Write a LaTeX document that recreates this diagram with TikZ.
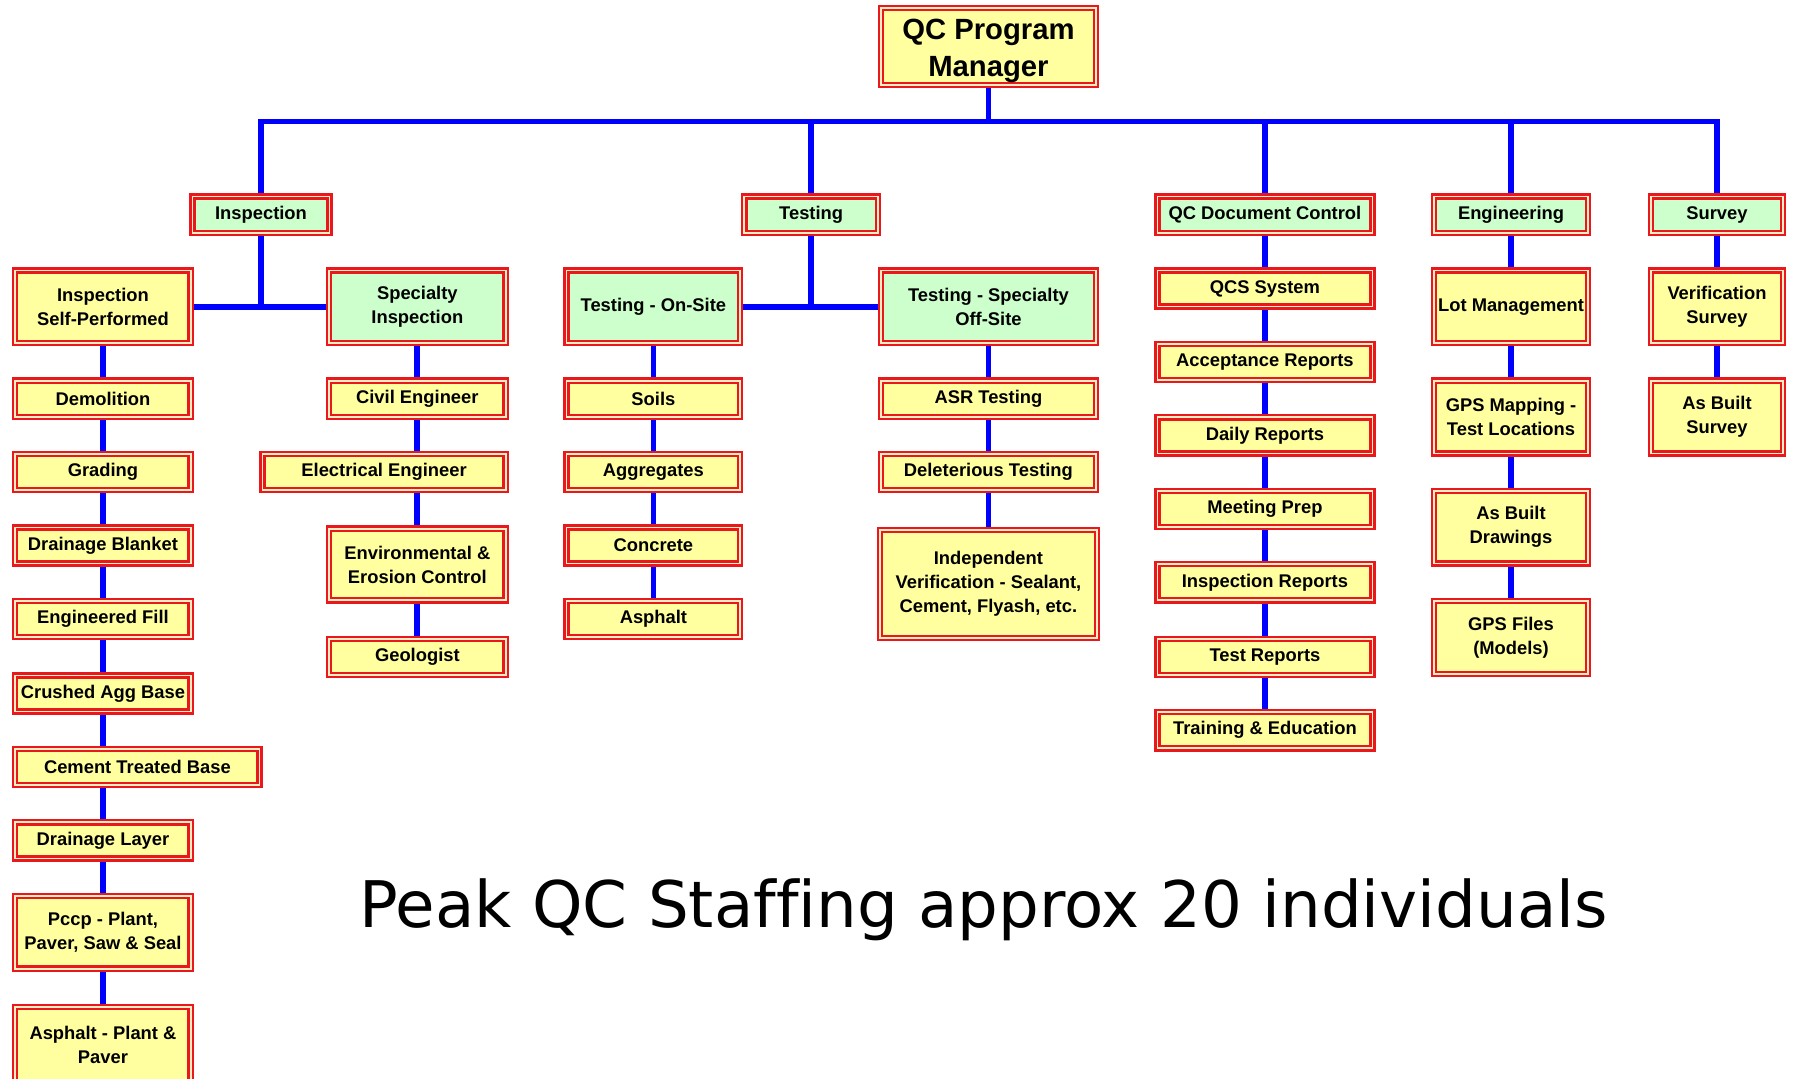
\documentclass[tikz,border=0pt]{standalone}
\usepackage{fontspec}
\setmainfont{Liberation Sans}
\newfontfamily\capfont[Ligatures=NoCommon]{DejaVu Sans}
\usetikzlibrary{backgrounds}

\definecolor{bred}{RGB}{232,24,28}
\definecolor{bgap}{RGB}{255,238,195}
\definecolor{byel}{RGB}{255,255,160}
\definecolor{bgrn}{RGB}{204,255,204}
\definecolor{bblue}{RGB}{0,0,255}

\tikzset{
  orgbox/.style={draw=bred, double=bgap, line width=2pt, double distance=1.6pt,
    inner sep=0pt, align=center, text=black,
    font=\bfseries\fontsize{16}{21}\selectfont},
  ybox/.style={orgbox, fill=byel},
  gbox/.style={orgbox, fill=bgrn},
  link/.style={draw=bblue, line width=5pt},
}

% box given by its outer edges: name, style, x1, x2, y1, y2, text
\newcommand\obox[7]{%
  \node[#2, minimum width={(#4-#3-5.6)*1pt}, minimum height={(#6-#5-5.6)*1pt}]
    (#1) at ({(#3+#4)/2},{(#5+#6)/2}) {#7};}

\begin{document}
\begin{tikzpicture}[x=1pt, y=-1pt]
\useasboundingbox (0,0) rectangle (1568,940);

% top
\obox{mgr}{ybox, font=\bfseries\fontsize{25.5}{32}\selectfont}{765}{958}{4}{77}{\rule{0pt}{25pt}QC Program\\Manager}

% second level
\obox{insp}{gbox}{165}{290}{168.5}{206}{Inspection}
\obox{test}{gbox}{646}{768}{168.5}{206}{Testing}
\obox{qcdc}{gbox}{1006}{1199}{168.5}{206}{QC Document Control}
\obox{eng}{gbox}{1247}{1387}{168.5}{206}{Engineering}
\obox{surv}{gbox}{1436}{1557}{168.5}{206}{Survey}

% third level
\obox{isp}{ybox}{10.5}{169}{233}{302}{Inspection\\Self-Performed}
\obox{si}{gbox}{284}{443.5}{233}{302}{Specialty\\Inspection}
\obox{tos}{gbox}{491}{648}{233}{302}{Testing - On-Site}
\obox{tso}{gbox}{765}{958}{233}{302}{Testing - Specialty\\Off-Site}
\obox{qcs}{ybox}{1006}{1199}{233}{270}{QCS System}
\obox{lot}{ybox}{1247}{1387}{233}{302}{Lot Management}
\obox{vsur}{ybox}{1436}{1557}{233}{302}{Verification\\Survey}

% self-performed inspection
\obox{demo}{ybox}{10.5}{169}{329}{366}{Demolition}
\obox{grad}{ybox}{10.5}{169}{393}{430}{Grading}
\obox{dblk}{ybox}{10.5}{169}{457}{494}{Drainage Blanket}
\obox{efil}{ybox}{10.5}{169}{521}{558}{Engineered Fill}
\obox{cab}{ybox}{10.5}{169}{586}{623}{Crushed Agg Base}
\obox{ctb}{ybox}{10.5}{229}{650}{687}{Cement Treated Base}
\obox{dlay}{ybox}{10.5}{169}{714}{751}{Drainage Layer}
\obox{pccp}{ybox}{10.5}{169}{778}{847}{Pccp - Plant,\\Paver, Saw \& Seal}
\obox{asph}{ybox}{10.5}{169}{875}{946}{Asphalt - Plant \&\\Paver}

% specialty inspection
\obox{civ}{ybox}{284}{443.5}{329}{366}{Civil Engineer}
\obox{elec}{ybox}{226}{443.5}{393}{430}{Electrical Engineer}
\obox{env}{ybox}{284}{443.5}{458}{526}{Environmental \&\\Erosion Control}
\obox{geo}{ybox}{284}{443.5}{554}{591}{Geologist}

% on-site testing
\obox{soil}{ybox}{491}{648}{329}{366}{Soils}
\obox{aggr}{ybox}{491}{648}{393}{430}{Aggregates}
\obox{conc}{ybox}{491}{648}{457}{494}{Concrete}
\obox{aspt}{ybox}{491}{648}{521}{558}{Asphalt}

% off-site testing
\obox{asr}{ybox}{765}{958}{329}{366}{ASR Testing}
\obox{dele}{ybox}{765}{958}{393}{430}{Deleterious Testing}
\obox{indv}{ybox}{764}{959}{459}{559}{Independent\\Verification - Sealant,\\Cement, Flyash, etc.}

% document control
\obox{acc}{ybox}{1006}{1199}{297}{334}{Acceptance Reports}
\obox{daily}{ybox}{1006}{1199}{361}{398}{Daily Reports}
\obox{meet}{ybox}{1006}{1199}{425}{462}{Meeting Prep}
\obox{insr}{ybox}{1006}{1199}{489}{526}{Inspection Reports}
\obox{tstr}{ybox}{1006}{1199}{554}{591}{Test Reports}
\obox{train}{ybox}{1006}{1199}{618}{655}{Training \& Education}

% engineering
\obox{gpsm}{ybox}{1247}{1387}{329}{398}{GPS Mapping -\\Test Locations}
\obox{abd}{ybox}{1247}{1387}{425}{494}{As Built\\Drawings}
\obox{gpsf}{ybox}{1247}{1387}{521}{590}{GPS Files\\(Models)}

% survey
\obox{abs}{ybox}{1436}{1557}{329}{398}{As Built\\Survey}

% caption
\node[anchor=base west, inner sep=0pt, font=\capfont\fontsize{56}{60}\selectfont]
  (peak) at (313,808) {Peak QC Staffing approx 20 individuals};

\begin{pgfonlayer}{background}
  \fill[white] (0,0) rectangle (1568,940);
  \coordinate (bus) at (861.5,106);
  \draw[link] (mgr.south) -- (mgr.south |- bus);
  \draw[link] (insp.north) -- (insp.north |- bus) -- (surv.north |- bus) -- (surv.north);
  \foreach \n in {test,qcdc,eng} \draw[link] (\n.north) -- (\n.north |- bus);
  % branch joints
  \draw[link] (insp.south) -- (insp.south |- isp.east);
  \draw[link] (isp.east) -- (si.west);
  \draw[link] (test.south) -- (test.south |- tos.east);
  \draw[link] (tos.east) -- (tso.west);
  % vertical chains
  \foreach \a/\b in {isp/demo, demo/grad, grad/dblk, dblk/efil, efil/cab, cab/ctb,
      dlay/pccp, pccp/asph,
      si/civ, civ/elec, env/geo,
      tos/soil, soil/aggr, aggr/conc, conc/aspt,
      tso/asr, asr/dele, dele/indv,
      qcdc/qcs, qcs/acc, acc/daily, daily/meet, meet/insr, insr/tstr, tstr/train,
      eng/lot, lot/gpsm, gpsm/abd, abd/gpsf,
      surv/vsur, vsur/abs}
    \draw[link] (\a.south) -- (\a.south |- \b.north);
  \draw[link] (cab.south |- ctb.south) -- (dlay.north);
  \draw[link] (civ.south |- elec.south) -- (env.north);
\end{pgfonlayer}
\end{tikzpicture}
\end{document}
